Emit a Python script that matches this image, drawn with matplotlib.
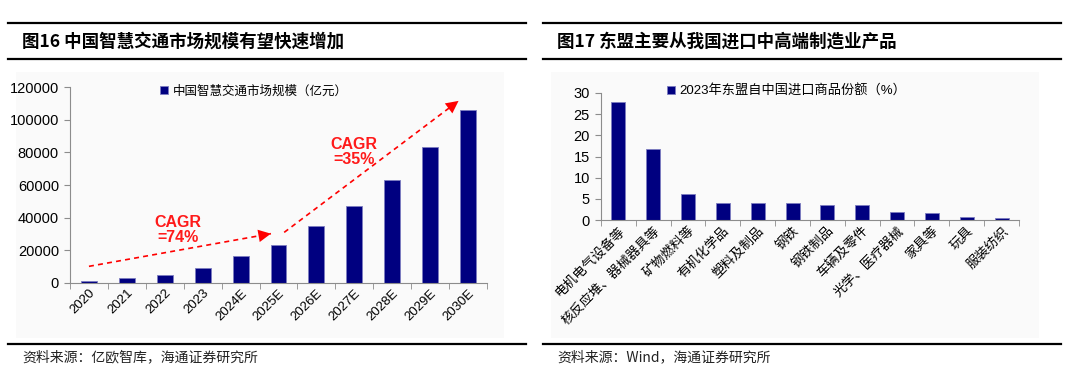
import numpy as np
import matplotlib.pyplot as plt
from matplotlib.lines import Line2D
from matplotlib.patches import Rectangle

plt.rcParams['font.family'] = ['Liberation Sans', 'Noto Sans CJK SC', 'DejaVu Sans']
cjk = ['Noto Sans CJK SC', 'DejaVu Sans']

# Left chart data
years = ['2020', '2021', '2022', '2023', '2024E', '2025E', '2026E', '2027E', '2028E', '2029E', '2030E']
market_size = [1400, 3100, 5100, 9000, 16300, 23300, 34700, 47300, 62800, 83200, 105900]

# CAGR arrows (start, end) in data coords
arrow1 = [(0.0, 10200), (4.8, 30200)]
arrow2 = [(5.15, 31000), (9.75, 111500)]
cagr1_pos = (2.35, 32500)
cagr2_pos = (7.0, 80500)

# Right chart data
goods = ['电机电气设备等', '核反应堆、器械器具等', '矿物燃料等', '有机化学品', '塑料及制品', '钢铁',
         '钢铁制品', '车辆及零件', '光学、医疗器械', '家具等', '玩具', '服装纺织']
share = [27.9, 16.8, 6.2, 4.0, 3.9, 3.9, 3.6, 3.5, 1.9, 1.65, 0.7, 0.5]

navy = '#000080'
edge = '#7c7cc0'
axcol = '#8c8c8c'

fig = plt.figure(figsize=(10.8, 3.75), dpi=100)
W, H = 1080, 375


def fx(x):
    return x / W


def fy(y):
    return 1 - y / H


# panel frames: header lines, light backgrounds, titles and sources
for x0, x1, title, source in [(8, 526, '图16 中国智慧交通市场规模有望快速增加', '资料来源：亿欧智库，海通证券研究所'),
                              (543, 1061, '图17 东盟主要从我国进口中高端制造业产品', '资料来源：Wind，海通证券研究所')]:
    bg = Rectangle((fx(x0 + 8), fy(338)), fx(x1 - x0 - 30), (338 - 72) / H,
                   transform=fig.transFigure, facecolor='#fafafa', edgecolor='none', zorder=-5)
    fig.add_artist(bg)
    for y, lw in [(23, 1.6), (59, 1.6), (344, 1.6)]:
        fig.add_artist(Line2D([fx(x0), fx(x1)], [fy(y), fy(y)], color='black', lw=lw))
    fig.text(fx(x0 + 14), fy(42), title, fontsize=12.6, fontweight='bold', va='center', family=cjk)
    fig.text(fx(x0 + 14), fy(357), source, fontsize=10, va='center', family=cjk, color='#222222')


def style_axes(ax, n):
    ax.set_facecolor('none')
    for s in ['top', 'right']:
        ax.spines[s].set_visible(False)
    for s in ['left', 'bottom']:
        ax.spines[s].set_color(axcol)
        ax.spines[s].set_linewidth(0.8)
    ax.set_xlim(-0.5, n - 0.5)
    ax.set_xticks(np.arange(n))
    ax.set_xticks(np.arange(n + 1) - 0.5, minor=True)
    ax.tick_params(axis='x', which='major', length=0, pad=3)
    ax.tick_params(axis='x', which='minor', length=4, color=axcol, direction='out')
    ax.tick_params(axis='y', length=4, color=axcol, direction='out', labelsize=10.5, pad=4)


# Left chart
ax1 = fig.add_axes([fx(70), fy(283), fx(487 - 70), (283 - 87) / H])
x1 = np.arange(len(years))
ax1.bar(x1, market_size, width=0.42, color=navy, edgecolor=edge, linewidth=0.6,
        label='中国智慧交通市场规模（亿元）', zorder=2)
style_axes(ax1, len(years))
ax1.set_ylim(0, 120000)
ax1.set_yticks(np.arange(0, 120001, 20000))
ax1.set_xticklabels(years, rotation=45, ha='right', rotation_mode='anchor', fontsize=9.5)
ax1.legend(loc='upper left', bbox_to_anchor=(0.19, 1.07), frameon=False, handlelength=0.6, handleheight=0.6,
           handletextpad=0.4, prop={'family': cjk, 'size': 9})

for (s, e) in [arrow1, arrow2]:
    ax1.plot([s[0], e[0]], [s[1], e[1]], color='red', lw=1.2, ls=(0, (3, 2.5)), zorder=3)
    t = 0.93
    mid = (s[0] + t * (e[0] - s[0]), s[1] + t * (e[1] - s[1]))
    ax1.annotate('', xy=e, xytext=mid,
                 arrowprops=dict(arrowstyle='-|>,head_length=0.9,head_width=0.45', color='red', lw=0,
                                 shrinkA=0, shrinkB=0), zorder=3)
for pos, txt in [(cagr1_pos, 'CAGR\n=74%'), (cagr2_pos, 'CAGR\n=35%')]:
    ax1.text(pos[0], pos[1], txt, color='#ff1a1a', fontsize=11.5, fontweight='bold',
             ha='center', va='center', linespacing=1.0)

# Right chart
ax2 = fig.add_axes([fx(601), fy(220), fx(1019 - 601), (220 - 93) / H])
x2 = np.arange(len(goods))
ax2.bar(x2, share, width=0.4, color=navy, edgecolor=edge, linewidth=0.6,
        label='2023年东盟自中国进口商品份额（%）', zorder=2)
style_axes(ax2, len(goods))
ax2.set_ylim(0, 30)
ax2.set_yticks(np.arange(0, 31, 5))
ax2.set_xticklabels(goods, rotation=45, ha='right', rotation_mode='anchor', fontsize=9.5, family=cjk)
ax2.legend(loc='upper left', bbox_to_anchor=(0.13, 1.16), frameon=False, handlelength=0.6, handleheight=0.6,
           handletextpad=0.3, prop={'family': ['Liberation Sans', 'Noto Sans CJK SC'], 'size': 9.5})

fig.savefig('out.png', dpi=100)
